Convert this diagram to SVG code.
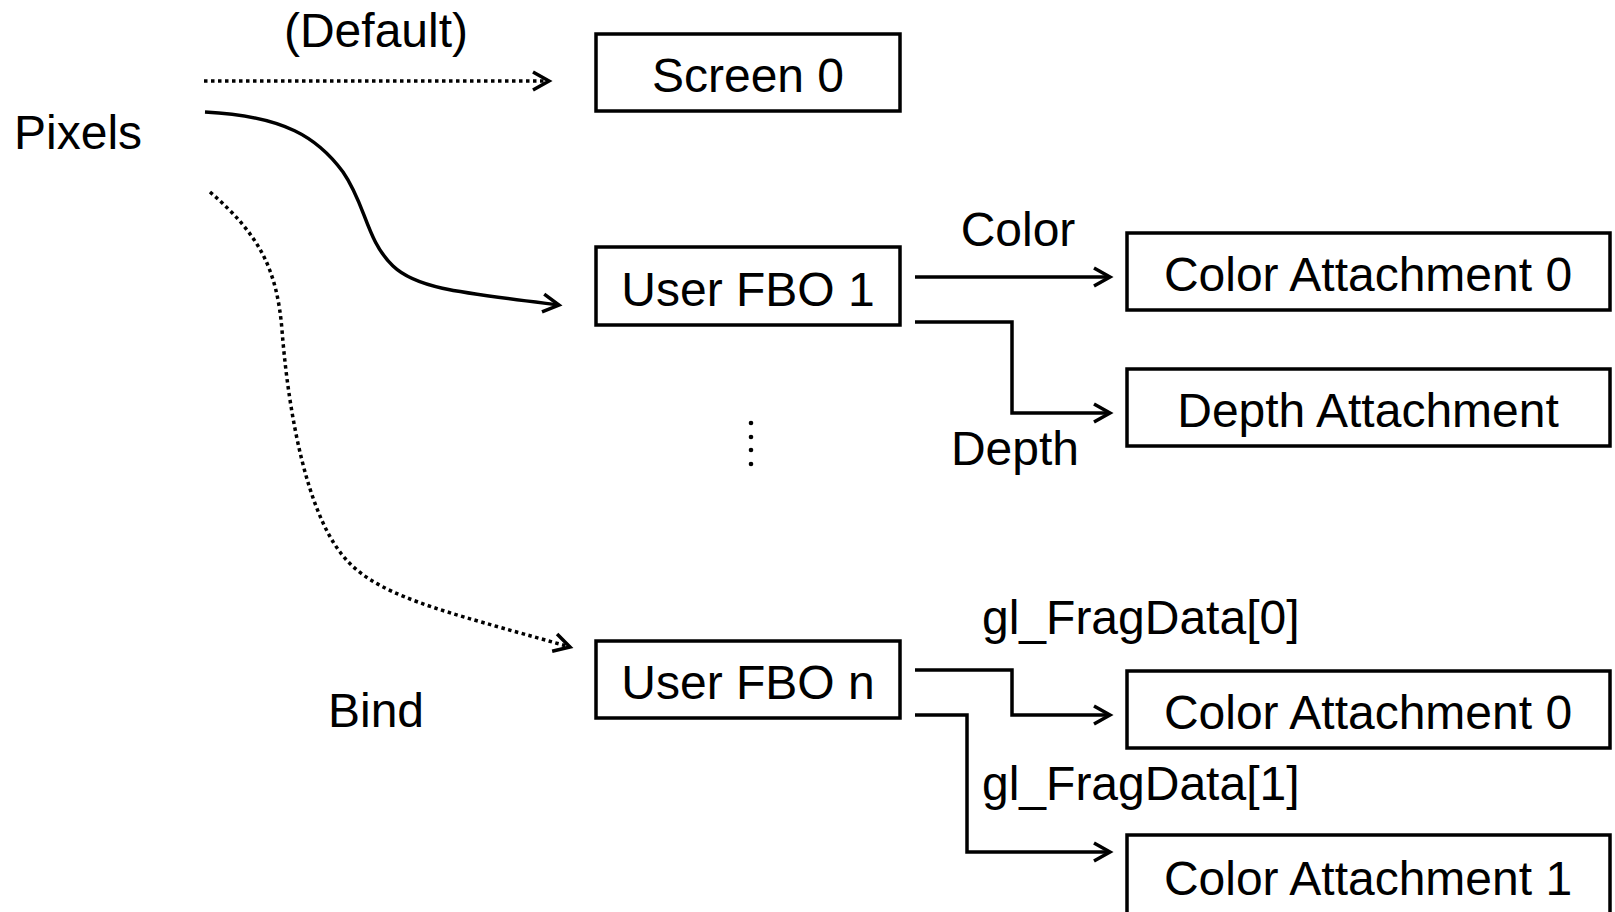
<svg xmlns="http://www.w3.org/2000/svg" width="1615" height="912" viewBox="0 0 1615 912">
<style>
.box{fill:#fff;stroke:#000;stroke-width:3.5}
.t{font-family:"Liberation Sans",Arial,sans-serif;font-size:48px;fill:#000}
.m{text-anchor:middle}
.c{fill:none;stroke:#000;stroke-width:3.5}
.d{stroke-dasharray:3.5 3.5}
</style>
<defs>
<marker id="ah" markerUnits="userSpaceOnUse" markerWidth="30" markerHeight="30" viewBox="-20 -15 30 30" refX="0" refY="0" orient="auto">
<path d="M-16,-9 L0,0 L-16,9" fill="none" stroke="#000" stroke-width="3.5" stroke-linejoin="miter"/>
</marker>
</defs>
<rect width="1615" height="912" fill="#fff"/>
<g id="connectors">
<path class="c d" d="M204,81 L549,81" marker-end="url(#ah)"/>
<path class="c" d="M205,112 C285,116 318,138 343,172 C366,205 366,240 393,266 C416,288 455,292 559,305" marker-end="url(#ah)"/>
<path class="c d" d="M210,192 C260,235 277,270 282,330 C289,420 308,510 340,552 C372,596 440,610 570,647" marker-end="url(#ah)"/>
<path class="c" d="M915,277 L1110,277" marker-end="url(#ah)"/>
<path class="c" d="M915,322 L1012,322 L1012,413 L1110,413" marker-end="url(#ah)"/>
<path class="c" d="M915,670 L1012,670 L1012,715 L1110,715" marker-end="url(#ah)"/>
<path class="c" d="M915,715 L967,715 L967,852 L1110,852" marker-end="url(#ah)"/>
<text class="t m" x="376" y="47">(Default)</text>
<text class="t m" x="376" y="727">Bind</text>
<text class="t m" x="1018" y="246">Color</text>
<text class="t m" x="1015" y="465">Depth</text>
<text class="t" x="982" y="634">gl_FragData[0]</text>
<text class="t" x="982" y="800">gl_FragData[1]</text>
</g>
<g id="pixels"><text class="t" x="14" y="149">Pixels</text></g>
<g id="screen0"><rect class="box" x="596" y="34" width="304" height="77"/><text class="t m" x="748" y="92">Screen 0</text></g>
<g id="fbo1"><rect class="box" x="596" y="247" width="304" height="78"/><text class="t m" x="748" y="306">User FBO 1</text></g>
<g id="ellipsis"><circle cx="751" cy="423" r="2.3"/><circle cx="751" cy="437" r="2.3"/><circle cx="751" cy="450" r="2.3"/><circle cx="751" cy="464" r="2.3"/></g>
<g id="fbon"><rect class="box" x="596" y="641" width="304" height="77"/><text class="t m" x="748" y="699">User FBO n</text></g>
<g id="ca0a"><rect class="box" x="1127" y="233" width="483" height="77"/><text class="t m" x="1368" y="291">Color Attachment 0</text></g>
<g id="depth"><rect class="box" x="1127" y="369" width="483" height="77"/><text class="t m" x="1368" y="427">Depth Attachment</text></g>
<g id="ca0b"><rect class="box" x="1127" y="671" width="483" height="77"/><text class="t m" x="1368" y="729">Color Attachment 0</text></g>
<g id="ca1"><rect class="box" x="1127" y="835" width="483" height="82"/><text class="t m" x="1368" y="895">Color Attachment 1</text></g>
</svg>
